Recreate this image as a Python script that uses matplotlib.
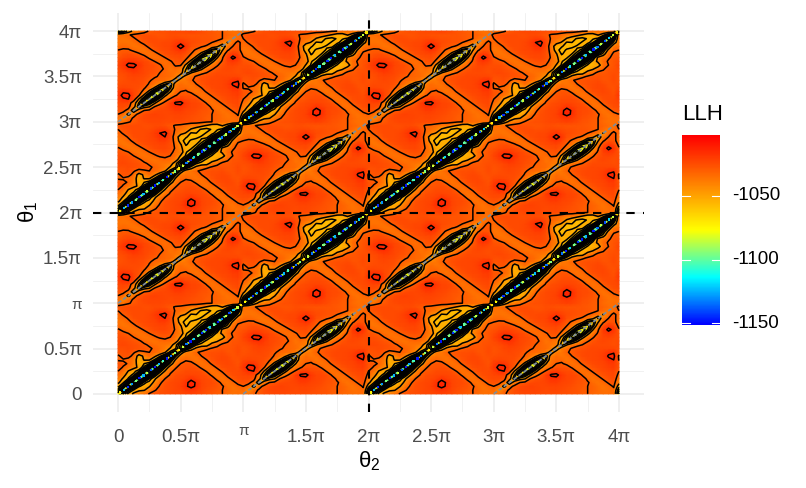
# LLH surface over theta1 / theta2, pattern repeats every pi along the diagonal

import numpy as np
import matplotlib
matplotlib.use("Agg")
import matplotlib.pyplot as plt
from matplotlib.colors import LinearSegmentedColormap, Normalize

plt.rcParams["font.family"] = ["Liberation Sans", "DejaVu Sans"]
plt.rcParams["mathtext.fontset"] = "custom"
plt.rcParams["mathtext.rm"] = "Liberation Sans"
plt.rcParams["mathtext.it"] = "Liberation Sans"
plt.rcParams["mathtext.fallback"] = "stix"

# values are -(LLH + 1000), rows go up in theta1, columns go right in theta2
main_block = [
    [72,64,52,42,38,34,29,26,25,25,24,23,23,22,21,22,24,26,27,29,30,33,35,34],
    [64,92,66,54,47,46,38,31,27,25,24,23,22,20,18,20,23,25,26,28,30,32,35,35],
    [52,66,100,74,56,52,46,36,29,25,24,23,21,16,13,16,22,24,25,27,29,34,36,32],
    [42,54,74,108,80,57,52,42,32,26,24,23,22,17,12,16,22,24,24,26,33,36,32,28],
    [37,47,56,80,114,82,60,47,37,30,26,24,23,21,17,20,23,24,25,33,36,32,28,25],
    [33,40,52,57,82,116,84,62,46,36,29,25,24,23,22,23,24,25,32,36,33,28,25,24],
    [30,34,46,52,60,84,116,82,60,44,32,28,26,24,24,24,25,31,36,33,29,25,24,24],
    [26,31,36,42,47,62,82,112,78,56,38,31,27,26,25,26,32,36,33,29,25,24,24,25],
    [26,28,31,38,52,55,60,78,104,72,53,36,30,27,27,32,36,33,29,25,24,23,24,26],
    [31,31,33,37,54,44,44,56,72,94,66,44,33,31,33,36,34,30,26,24,23,23,25,26],
    [32,26,27,33,52,42,33,42,53,66,82,58,38,35,36,35,30,27,25,24,23,24,26,25],
    [26,26,25,29,33,31,30,32,36,44,58,70,54,38,36,31,28,26,25,25,24,26,26,24],
    [25,25,24,25,26,27,29,31,34,38,46,54,70,66,52,42,36,32,29,27,26,27,26,24],
    [24,23,24,25,26,29,31,33,35,36,38,52,66,88,70,56,52,52,38,33,28,28,26,25],
    [24,24,25,27,29,32,35,36,33,32,33,38,54,70,100,80,60,53,54,47,36,31,27,26],
    [25,25,27,30,33,36,35,31,29,28,30,34,46,56,80,110,84,62,54,54,52,35,30,27],
    [26,28,30,34,36,34,30,28,26,25,27,33,38,54,60,84,116,86,64,52,42,33,29,27],
    [29,32,35,36,33,29,26,24,23,23,25,31,42,52,54,62,86,118,88,64,42,36,31,28],
    [33,36,36,32,28,25,24,23,22,22,25,32,44,56,52,55,64,88,120,88,64,52,33,29],
    [36,36,32,28,25,24,23,22,20,20,24,34,52,58,54,52,56,64,88,118,86,62,42,31],
    [35,33,29,25,24,24,23,21,17,15,23,36,54,54,58,57,54,52,64,86,114,82,57,36],
    [33,29,26,24,24,24,23,20,15,12,22,33,40,46,56,55,58,54,52,60,82,108,76,52],
    [30,26,25,24,24,24,24,22,20,20,24,31,34,38,46,52,56,58,54,54,57,76,96,66],
    [27,25,24,24,24,25,25,24,24,25,28,31,32,34,38,38,42,46,52,52,44,52,66,76],
]

off_block = [
    [36,34,31,28,25,24,23,23,23,24,24,24,24,25,25,26,27,29,30,32,33,34,34,33],
    [33,44,33,29,25,23,22,22,22,23,24,23,23,24,25,26,27,29,30,31,33,35,35,32],
    [30,33,50,33,28,24,22,21,22,23,23,22,22,23,24,25,27,28,30,31,34,36,33,29],
    [26,28,33,56,36,30,27,24,23,23,22,20,20,22,23,24,26,27,29,33,36,33,29,26],
    [24,24,27,40,62,50,46,30,26,24,21,17,17,20,22,23,25,26,32,36,33,29,26,24],
    [23,22,23,38,56,74,62,48,33,28,20,14,13,18,22,23,24,31,36,33,29,26,24,23],
    [21,16,15,23,46,64,80,68,50,34,29,20,19,23,24,24,31,36,33,29,26,24,23,22],
    [18,13,13,21,29,48,70,86,72,48,36,31,26,26,26,31,36,33,29,26,24,23,21,20],
    [20,16,17,23,26,33,50,72,82,66,46,34,30,29,32,36,33,29,26,24,23,22,20,19],
    [23,22,23,24,25,29,34,46,66,74,58,36,32,32,36,34,30,26,24,23,22,21,17,15],
    [25,24,24,24,24,26,31,35,42,54,62,38,33,36,35,30,27,24,23,23,22,20,14,12],
    [26,25,24,23,24,25,29,32,33,34,38,52,38,37,31,28,25,24,23,23,22,21,17,16],
    [26,25,23,22,23,24,26,29,31,32,33,38,54,38,33,29,27,25,24,23,23,23,23,23],
    [25,24,22,20,21,23,25,26,30,32,34,36,38,60,46,36,32,30,26,24,24,24,24,25],
    [24,21,17,16,19,23,24,26,28,31,36,33,38,54,70,62,48,34,31,27,24,23,24,25],
    [22,18,13,13,17,22,24,25,29,33,34,29,29,48,64,78,70,50,36,31,26,23,22,24],
    [24,20,17,18,21,23,25,30,33,35,31,27,26,32,50,70,84,74,50,35,29,21,18,21],
    [26,24,23,23,24,26,32,35,34,30,26,25,24,28,34,50,74,80,70,46,31,19,13,17],
    [29,26,25,26,29,33,36,33,29,25,24,23,22,25,30,36,50,70,74,60,36,24,18,21],
    [30,29,29,32,35,36,32,28,25,24,23,20,17,21,28,31,35,42,60,64,46,31,26,26],
    [33,32,33,36,36,32,28,25,24,23,22,17,12,17,25,27,29,31,36,42,56,36,30,27],
    [36,35,36,35,31,28,25,24,24,23,23,20,17,21,24,25,26,27,30,31,36,46,33,28],
    [35,36,35,31,28,25,24,24,25,25,24,23,23,24,25,25,26,26,27,29,30,33,38,33],
    [36,34,31,28,26,25,25,26,27,26,25,25,26,26,27,27,27,27,28,29,30,31,33,36],
]

# thin streak along the main diagonal of each block
main_ridge = [75,125,145,130,95,148,125,85,140,148,125,105,148,135,95,70,
              85,135,148,120,95,145,148,125,100,148,135,85,140,120,85,70]

x_ticks = [0, 0.5, 1, 1.5, 2, 2.5, 3, 3.5, 4]
tick_labels = ["0", "0.5π", "π", "1.5π", "2π", "2.5π", "3π", "3.5π", "4π"]
minor_ticks = [0.25, 0.75, 1.25, 1.75, 2.25, 2.75, 3.25, 3.75]
bar_ticks = [-1050, -1100, -1150]
bar_range = [-1151.5, -1002]
contour_levels = [-1145, -1135, -1125, -1115, -1105, -1095, -1090, -1085, -1080, -1075, -1070, -1065, -1060,
                  -1055, -1045, -1030, -1015]
stops = ["#0000FF", "#00FFFF", "#FFFF00", "#FF8000", "#FF0000"]

GREY = "#4D4D4D"
W, H = 806, 488


def px_axes(fig, left, top, right, bottom):
    return fig.add_axes([left / W, 1 - bottom / H, (right - left) / W, (bottom - top) / H])


def main():
    a = np.array(main_block, dtype=float)
    b = np.array(off_block, dtype=float)
    tile = np.block([[a, b], [b, a]])
    z = -1000 - np.block([[tile, tile], [tile, tile]])
    z = np.vstack([z, z[:1]])
    z = np.hstack([z, z[:, :1]])
    grid = np.arange(z.shape[0]) / 24.0  # in units of pi

    cmap = LinearSegmentedColormap.from_list("llh", stops)
    norm = Normalize(bar_range[0], bar_range[1])

    fig = plt.figure(figsize=(W / 100, H / 100), dpi=100)
    ax = px_axes(fig, 93, 13, 644, 412)
    ax.set_xlim(-0.2, 4.2)
    ax.set_ylim(-0.2, 4.2)

    for t in minor_ticks:
        ax.axvline(t, color="#EBEBEB", lw=0.5, zorder=0)
        ax.axhline(t, color="#EBEBEB", lw=0.5, zorder=0)
    for t in x_ticks:
        ax.axvline(t, color="#EBEBEB", lw=1.1, zorder=0)
        ax.axhline(t, color="#EBEBEB", lw=1.1, zorder=0)

    ax.pcolormesh(grid, grid, z, cmap=cmap, norm=norm, shading="gouraud", zorder=1)
    ax.contour(grid, grid, z, levels=contour_levels, colors="black", linewidths=1.1,
               linestyles="solid", zorder=2)

    # streaks on the diagonals
    pos = (np.arange(len(main_ridge)) + 0.5) / len(main_ridge)
    ridge = -1000 - np.array(main_ridge, dtype=float)
    for r in range(4):
        for c in range(4):
            if (r + c) % 2 == 0:
                ax.scatter(c + pos, r + pos, c=ridge, cmap=cmap, norm=norm, s=2.5, marker="s",
                           linewidths=0, zorder=3)
            else:
                ax.plot([c, c + 1], [r, r + 1], color="#7F8C99", lw=1.3, ls=(0, (2.2, 1.2)), zorder=3)

    ax.axvline(2, color="black", lw=1.5, ls=(0, (4, 4)), zorder=4)
    ax.axhline(2, color="black", lw=1.5, ls=(0, (4, 4)), zorder=4)

    for s in ax.spines.values():
        s.set_visible(False)
    ax.set_xticks(x_ticks)
    ax.set_yticks(x_ticks)
    ax.set_xticklabels(tick_labels)
    ax.set_yticklabels(tick_labels)
    ax.tick_params(length=0, labelsize=13.5, labelcolor=GREY)
    ax.tick_params(axis="x", pad=12)
    ax.tick_params(axis="y", pad=8)
    # the lone pi sits smaller and higher than the others
    ax.get_xticklabels()[2].set_fontsize(11)
    ax.get_xticklabels()[2].set_y(0.012)
    ax.get_yticklabels()[2].set_fontsize(11)

    fig.text(369 / W, 1 - 461 / H, r"$\mathrm{\theta_2}$", fontsize=16, color="black", ha="center", va="center")
    fig.text(28 / W, 1 - 212 / H, r"$\mathrm{\theta_1}$", fontsize=16, color="black", ha="center", va="center",
             rotation=90)

    # colour bar drawn by hand so the ticks can be white and inside
    cax = px_axes(fig, 682, 135, 720, 325)
    vals = np.linspace(bar_range[0], bar_range[1], 300).reshape(-1, 1)
    cax.imshow(vals, origin="lower", aspect="auto", cmap=cmap, norm=norm,
               extent=[0, 1, bar_range[0], bar_range[1]])
    for t in bar_ticks:
        cax.plot([0, 0.2], [t, t], color="white", lw=0.8)
        cax.plot([0.8, 1], [t, t], color="white", lw=0.8)
        fig.text(732 / W, 1 - (196 + (-1050 - t) * 1.27) / H, str(t), fontsize=13.5, color="black",
                 ha="left", va="center")
    cax.set_xlim(0, 1)
    cax.set_ylim(bar_range[0], bar_range[1])
    cax.axis("off")
    fig.text(682 / W, 1 - 115 / H, "LLH", fontsize=16, color="black", ha="left", va="center")

    fig.savefig("out.png", dpi=100)


if __name__ == "__main__":
    main()
